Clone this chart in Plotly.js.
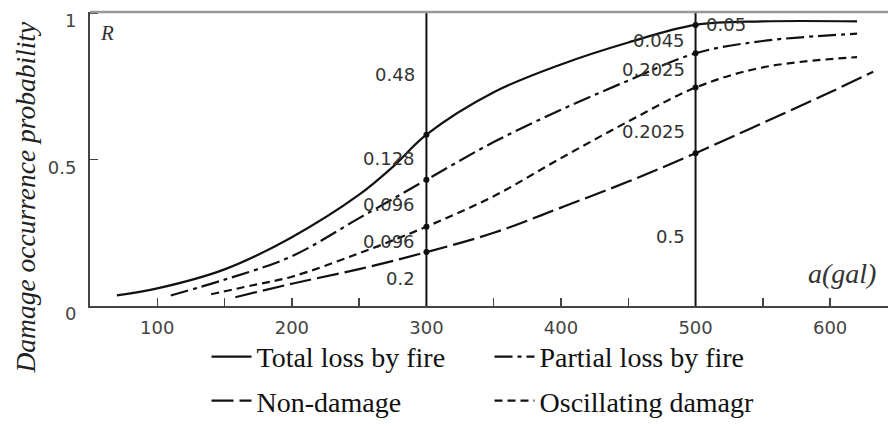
<!DOCTYPE html>
<html>
<head>
<meta charset="utf-8">
<script src="https://cdn.plot.ly/plotly-3.0.1.min.js"></script>
<style>html,body{margin:0;padding:0;background:#fff;}#chart{width:888px;height:426px;}</style>
</head>
<body>
<div id="chart"></div>
<script>
// Series data (a in gal, R probability)
const seriesNames = ["Total loss by fire", "Partial loss by fire", "Non-damage", "Oscillating damagr"];
const aTotal = [70, 100, 150, 200, 250, 275, 300, 350, 400, 450, 500, 550, 620];
const rTotal = [0.036, 0.06, 0.125, 0.235, 0.38, 0.475, 0.585, 0.73, 0.825, 0.90, 0.96, 0.972, 0.972];
const aPartial = [110, 150, 200, 250, 300, 350, 400, 450, 500, 550, 620];
const rPartial = [0.036, 0.09, 0.17, 0.30, 0.431, 0.56, 0.67, 0.77, 0.863, 0.905, 0.93];
const aNon = [158, 200, 250, 300, 350, 400, 450, 500, 550, 600, 632];
const rNon = [0.03, 0.076, 0.126, 0.184, 0.25, 0.336, 0.425, 0.522, 0.625, 0.73, 0.80];
const aOsc = [140, 170, 200, 250, 300, 350, 400, 450, 500, 550, 620];
const rOsc = [0.04, 0.07, 0.10, 0.18, 0.271, 0.375, 0.505, 0.63, 0.746, 0.815, 0.85];

// reference accelerations (vertical lines)
const refA = [300, 500];
// labels at the reference lines
const labels300 = ["0.48", "0.128", "0.096", "0.096", "0.2"];
const labels300Y = [0.789, 0.505, 0.348, 0.221, 0.094];
const labels500 = ["0.045", "0.2025", "0.2025", "0.5"];
const labels500Y = [0.906, 0.806, 0.595, 0.237];
const label500Top = "0.05";
const label500TopY = 0.963;

const xTicks = [100, 200, 300, 400, 500, 600];
const xTickText = ["100", "200", "300", "400", "500", "600"];
const xMinorTicks = [150, 250, 350, 450, 550];
const yTicks = [0, 0.5, 1];
const yTickText = ["0", "0.5", "1"];

const INK = "#111";
const sansFont = "DejaVu Sans, Liberation Sans, sans-serif";
const serifFont = "Liberation Serif, DejaVu Serif, serif";

function mk(name, xs, ys, dash, legend) {
  return {x: xs, y: ys, name: name, type: "scatter", mode: "lines",
    line: {color: INK, width: 2.2, dash: dash, shape: "spline", smoothing: 1},
    legend: legend, hoverinfo: "skip"};
}
const traces = [
  mk(seriesNames[0], aTotal, rTotal, "solid", "legend"),
  mk(seriesNames[1], aPartial, rPartial, "18px,5px,4px,5px", "legend"),
  mk(seriesNames[2], aNon, rNon, "22px,6px", "legend2"),
  mk(seriesNames[3], aOsc, rOsc, "8px,5px", "legend2")
];

// dots where curves meet the reference lines
const dotX = [], dotY = [];
[[aTotal, rTotal], [aPartial, rPartial], [aNon, rNon], [aOsc, rOsc]].forEach(function(s) {
  refA.forEach(function(a) {
    const i = s[0].indexOf(a);
    if (i >= 0) { dotX.push(a); dotY.push(s[1][i]); }
  });
});
traces.push({x: dotX, y: dotY, type: "scatter", mode: "markers", showlegend: false,
  marker: {color: INK, size: 6}, hoverinfo: "skip"});

const annFont = {family: sansFont, size: 18, color: "#333"};
const annotations = [];
labels300.forEach(function(t, i) {
  annotations.push({x: 293, y: labels300Y[i], xref: "x", yref: "y", text: t, showarrow: false,
    xanchor: "right", yanchor: "middle", font: annFont});
});
labels500.forEach(function(t, i) {
  annotations.push({x: 494, y: labels500Y[i], xref: "x", yref: "y", text: t, showarrow: false,
    xanchor: "right", yanchor: "middle", font: annFont});
});
annotations.push({x: 506, y: label500TopY, xref: "x", yref: "y", text: label500Top, showarrow: false,
  xanchor: "left", yanchor: "middle", font: annFont});
annotations.push({x: 63, y: 0.933, xref: "x", yref: "y", text: "R", showarrow: false,
  font: {family: serifFont, size: 21, color: "#333", style: "italic"}});
annotations.push({x: 609, y: 0.11, xref: "x", yref: "y", text: "a(gal)", showarrow: false,
  font: {family: serifFont, size: 28, color: "#333", style: "italic"}});
annotations.push({x: -0.081, y: 0.37, xref: "paper", yref: "paper", text: "Damage occurrence probability",
  showarrow: false, textangle: -90, xanchor: "center", yanchor: "middle",
  font: {family: serifFont, size: 27.5, color: "#222", style: "italic"}});

const shapes = refA.map(function(a) {
  return {type: "line", xref: "x", yref: "paper", x0: a, x1: a, y0: 0, y1: 1,
    line: {color: INK, width: 2}};
});
shapes.push({type: "line", xref: "paper", yref: "paper", x0: 0, x1: 1, y0: 1, y1: 1,
  line: {color: "#999", width: 2.5}});

const legendBase = {orientation: "h", xanchor: "left", yanchor: "top", entrywidth: 228,
  font: {family: serifFont, size: 28, color: "#111"}, bgcolor: "rgba(0,0,0,0)", itemwidth: 40,
  tracegroupgap: 0, itemclick: false};

const layout = {
  width: 888, height: 426,
  margin: {l: 90, r: 0, t: 12, b: 115},
  paper_bgcolor: "#fff", plot_bgcolor: "#fff",
  showlegend: true,
  legend: Object.assign({}, legendBase, {x: 0.146, y: -0.088}),
  legend2: Object.assign({}, legendBase, {x: 0.146, y: -0.238}),
  xaxis: {range: [50, 643], showgrid: false, zeroline: false, showline: true,
    linecolor: "#444", linewidth: 2, ticks: "inside", ticklen: 8, tickwidth: 1.5, tickcolor: "#444",
    tickvals: xTicks, ticktext: xTickText, ticklabelstandoff: 4,
    tickfont: {family: sansFont, size: 18, color: "#444"},
    minor: {tickvals: xMinorTicks, ticks: "inside", ticklen: 8, tickwidth: 1.5, tickcolor: "#444"}},
  yaxis: {range: [0, 1.004], showgrid: false, zeroline: false, showline: true,
    linecolor: "#444", linewidth: 2, ticks: "inside", ticklen: 8, tickwidth: 1.5, tickcolor: "#444",
    tickvals: yTicks, ticktext: yTickText, ticklabelstandoff: 8, ticklabelshift: 8,
    ticklabeloverflow: "allow",
    tickfont: {family: sansFont, size: 18, color: "#444"}},
  annotations: annotations,
  shapes: shapes
};

Plotly.newPlot("chart", traces, layout, {displayModeBar: false, staticPlot: true});
</script>
</body>
</html>
